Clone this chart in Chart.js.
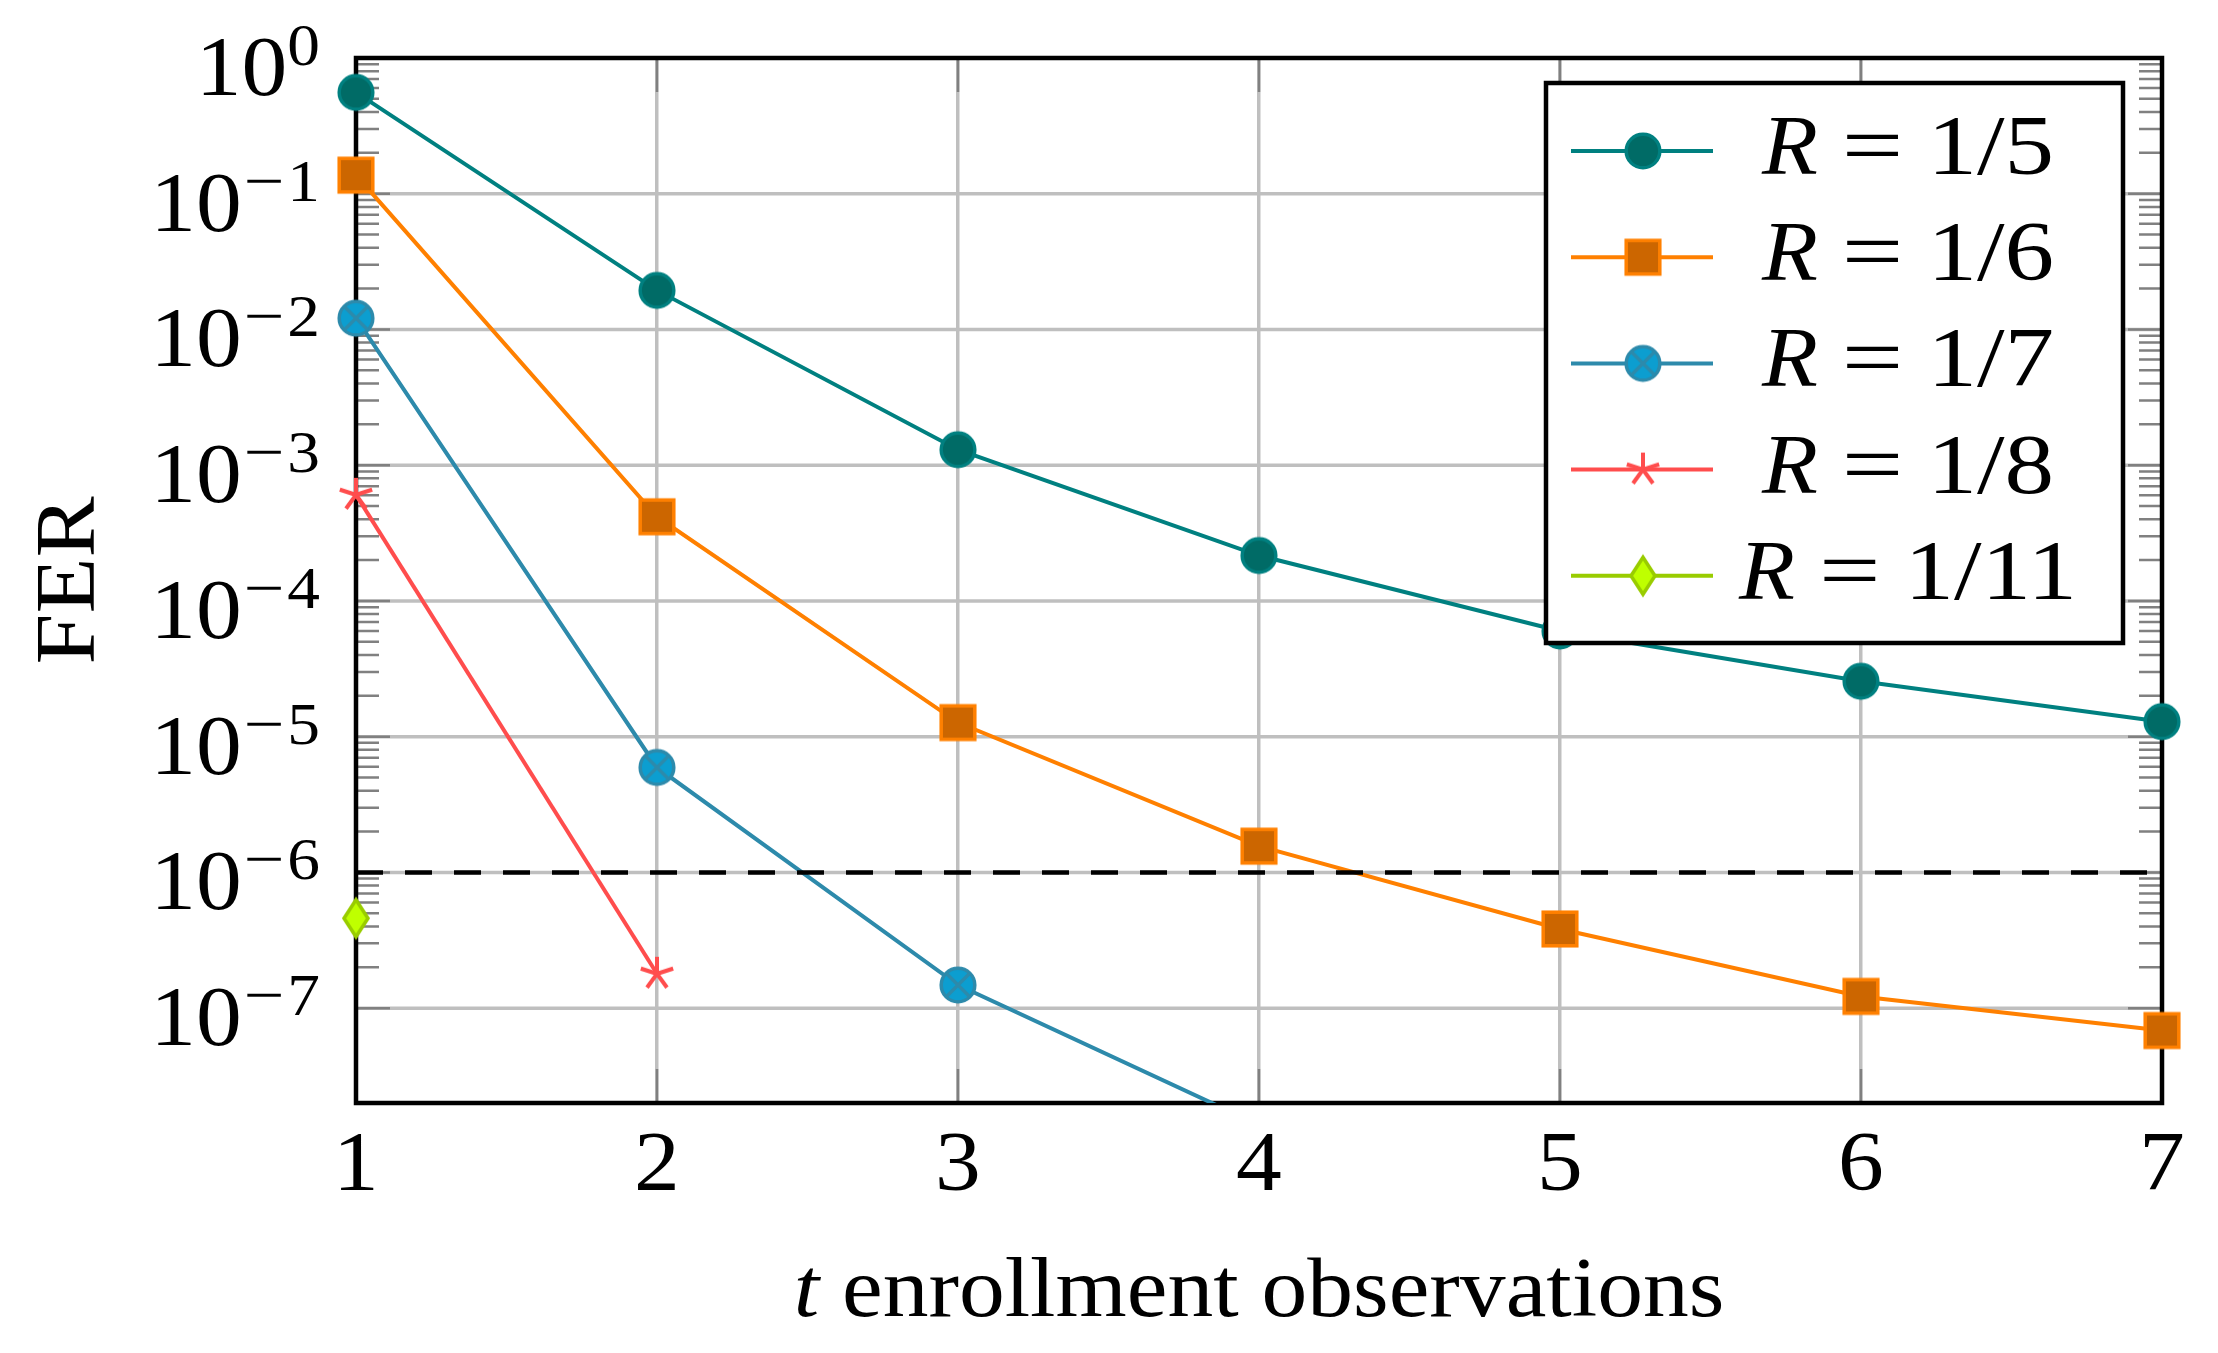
<!DOCTYPE html>
<html>
<head>
<meta charset="utf-8">
<script src="https://cdn.jsdelivr.net/npm/chart.js@4.4.1/dist/chart.umd.min.js"></script>
<style>
  html, body { margin: 0; padding: 0; background: #fff; }
  canvas { display: block; }
</style>
</head>
<body>
<canvas id="ferChart" width="2218" height="1353"></canvas>
<script>
// values
const tValues = [1, 2, 3, 4, 5, 6, 7];
const ferR5 = [0.558, 0.0194, 1.30e-3, 2.16e-4, 6.0e-5, 2.56e-5, 1.29e-5];
const ferR6 = [0.137, 4.17e-4, 1.27e-5, 1.56e-6, 3.83e-7, 1.22e-7, 6.84e-8];
const ferR7 = [0.0121, 5.93e-6, 1.48e-7, 1.38e-8];
const ferR8 = [6.05e-4, 1.79e-7];
const ferR11 = [4.59e-7];
const targetFer = 1e-6;

const rateLabels = ["1/5", "1/6", "1/7", "1/8", "1/11"];
const xTickLabels = ["1", "2", "3", "4", "5", "6", "7"];
const yTickExponents = [0, -1, -2, -3, -4, -5, -6, -7];
const xTitleVar = "t";
const xTitleRest = " enrollment observations";
const yTitle = "FER";

const SERIF = '"Liberation Serif", "DejaVu Serif", serif';
const STRETCH = 1.09; // Palatino is a bit wider than Liberation Serif

function toPoints(values) {
  return values.map((y, i) => ({ x: tValues[i], y }));
}

function textWidth(ctx, text, font, sx = STRETCH) {
  ctx.font = font;
  return ctx.measureText(text).width * sx;
}

// draws left-aligned text stretched horizontally, returns its width
function drawText(ctx, text, x, y, font, sx = STRETCH) {
  ctx.save();
  ctx.font = font;
  ctx.textAlign = "left";
  ctx.translate(x, y);
  ctx.scale(sx, 1);
  ctx.fillText(text, 0, 0);
  ctx.restore();
  return textWidth(ctx, text, font, sx);
}

function makeMarker(kind, fill, stroke) {
  const c = document.createElement("canvas");
  c.width = 46;
  c.height = 46;
  const g = c.getContext("2d");
  g.translate(23, 23);
  g.lineWidth = 3.5;
  g.fillStyle = fill;
  g.strokeStyle = stroke;
  if (kind === "circle" || kind === "otimes") {
    g.beginPath();
    g.arc(0, 0, 16.8, 0, Math.PI * 2);
    g.fill();
    g.stroke();
    if (kind === "otimes") {
      const d = 16.8 * Math.SQRT1_2;
      g.beginPath();
      g.moveTo(-d, -d); g.lineTo(d, d);
      g.moveTo(d, -d); g.lineTo(-d, d);
      g.stroke();
    }
  } else if (kind === "square") {
    g.fillRect(-16.8, -16.8, 33.6, 33.6);
    g.strokeRect(-16.8, -16.8, 33.6, 33.6);
  } else if (kind === "diamond") {
    g.beginPath();
    g.moveTo(0, -18.5); g.lineTo(12, 0); g.lineTo(0, 18.5); g.lineTo(-12, 0);
    g.closePath();
    g.fill();
    g.stroke();
  } else if (kind === "star") {
    g.lineWidth = 4;
    g.beginPath();
    for (let k = 0; k < 5; k++) {
      const a = -Math.PI / 2 + k * (2 * Math.PI / 5);
      g.moveTo(0, 0);
      g.lineTo(17 * Math.cos(a), 17 * Math.sin(a));
    }
    g.stroke();
  }
  return c;
}

const series = [
  { values: ferR5, line: "#008080", marker: makeMarker("circle", "#006b66", "#008080") },
  { values: ferR6, line: "#ff8000", marker: makeMarker("square", "#cc6600", "#ff8000") },
  { values: ferR7, line: "#2d8aab", marker: makeMarker("otimes", "#0c9ed0", "#2d8aab") },
  { values: ferR8, line: "#ff4d4d", marker: makeMarker("star", "#ff4d4d", "#ff4d4d") },
  { values: ferR11, line: "#99cc00", marker: makeMarker("diamond", "#bfff00", "#99cc00") }
];

const datasets = series.map((s, i) => ({
  label: "R = " + rateLabels[i],
  data: toPoints(s.values),
  borderColor: s.line,
  borderWidth: 4,
  pointStyle: s.marker,
  pointRadius: 18,
  pointBorderWidth: 0,
  clip: { left: 40, top: 40, right: 40, bottom: 0 },
  order: i
}));

datasets.push({
  label: "target",
  data: [{ x: tValues[0], y: targetFer }, { x: tValues[tValues.length - 1], y: targetFer }],
  borderColor: "#000",
  borderWidth: 4.5,
  borderDash: [27, 22],
  pointRadius: 0,
  clip: 0,
  order: -1
});

const axesPlugin = {
  id: "pgfAxes",
  beforeDatasetsDraw(chart) {
    const { ctx, chartArea: a } = chart;
    const ys = chart.scales.y;
    const xs = chart.scales.x;
    ctx.save();

    // decade grid lines
    ctx.strokeStyle = "#bfbfbf";
    ctx.lineWidth = 3.5;
    for (const e of yTickExponents) {
      const y = ys.getPixelForValue(Math.pow(10, e));
      ctx.beginPath();
      ctx.moveTo(a.left, y);
      ctx.lineTo(a.right, y);
      ctx.stroke();
    }

    // tick marks, drawn inside the frame
    ctx.strokeStyle = "#808080";
    ctx.lineWidth = 2.5;
    ctx.beginPath();
    for (const v of tValues) {
      const x = xs.getPixelForValue(v);
      ctx.moveTo(x, a.top); ctx.lineTo(x, a.top + 34);
      ctx.moveTo(x, a.bottom); ctx.lineTo(x, a.bottom - 34);
    }
    for (const e of yTickExponents) {
      const y = ys.getPixelForValue(Math.pow(10, e));
      ctx.moveTo(a.left, y); ctx.lineTo(a.left + 34, y);
      ctx.moveTo(a.right, y); ctx.lineTo(a.right - 34, y);
      if (e === yTickExponents[yTickExponents.length - 1]) continue;
      for (let m = 2; m <= 9; m++) {
        const ym = ys.getPixelForValue(m * Math.pow(10, e - 1));
        ctx.moveTo(a.left, ym); ctx.lineTo(a.left + 23, ym);
        ctx.moveTo(a.right, ym); ctx.lineTo(a.right - 23, ym);
      }
    }
    ctx.stroke();

    // frame
    ctx.strokeStyle = "#000";
    ctx.lineWidth = 4.5;
    ctx.strokeRect(a.left, a.top, a.right - a.left, a.bottom - a.top);
    ctx.restore();
  },
  afterDraw(chart) {
    const { ctx, chartArea: a } = chart;
    const ys = chart.scales.y;
    const xs = chart.scales.x;
    ctx.save();
    ctx.fillStyle = "#000";
    ctx.textBaseline = "alphabetic";

    const big = `84px ${SERIF}`;
    const small = `60px ${SERIF}`;
    const bigIt = `italic 84px ${SERIF}`;

    // y labels 10^n
    const labelRight = a.left - 36;
    for (const e of yTickExponents) {
      const y = ys.getPixelForValue(Math.pow(10, e));
      const digit = String(Math.abs(e));
      let x = labelRight - textWidth(ctx, digit, small);
      drawText(ctx, digit, x, y + 7, small);
      if (e < 0) {
        const wm = textWidth(ctx, "\u2212", small, 1.2);
        x -= wm + 3;
        drawText(ctx, "\u2212", x, y + 7, small, 1.2);
        x -= 2;
      }
      const w10 = textWidth(ctx, "10", big);
      drawText(ctx, "10", x - w10, y + 37, big);
    }

    // x labels
    tValues.forEach((v, i) => {
      const w = textWidth(ctx, xTickLabels[i], big);
      drawText(ctx, xTickLabels[i], xs.getPixelForValue(v) - w / 2, a.bottom + 87, big);
    });

    // x title
    const wt = textWidth(ctx, xTitleVar, bigIt);
    const wr = textWidth(ctx, xTitleRest, big);
    const x0 = (a.left + a.right) / 2 - (wt + wr) / 2;
    drawText(ctx, xTitleVar, x0, a.bottom + 213, bigIt);
    drawText(ctx, xTitleRest, x0 + wt, a.bottom + 213, big);

    // y title
    ctx.save();
    ctx.translate(94, (a.top + a.bottom) / 2);
    ctx.rotate(-Math.PI / 2);
    const wy = textWidth(ctx, yTitle, big);
    drawText(ctx, yTitle, -wy / 2, 0, big);
    ctx.restore();

    // legend box
    const box = { left: 1546, top: 83, right: 2123, bottom: 643 };
    ctx.fillStyle = "#fff";
    ctx.fillRect(box.left, box.top, box.right - box.left, box.bottom - box.top);
    ctx.strokeStyle = "#000";
    ctx.lineWidth = 4.5;
    ctx.strokeRect(box.left, box.top, box.right - box.left, box.bottom - box.top);

    const rowTop = 151;
    const rowStep = 106.2;
    series.forEach((s, i) => {
      const y = rowTop + i * rowStep;
      ctx.strokeStyle = s.line;
      ctx.lineWidth = 4;
      ctx.beginPath();
      ctx.moveTo(1571, y);
      ctx.lineTo(1713, y);
      ctx.stroke();
      ctx.drawImage(s.marker, 1643 - s.marker.width / 2, y - s.marker.height / 2);

      ctx.fillStyle = "#000";
      const wR = textWidth(ctx, "R", bigIt);
      const wEq = textWidth(ctx, "=", big, 1.3);
      const wF = textWidth(ctx, rateLabels[i], big, 1.18);
      const gap = 24;
      let x = 1908 - (wR + wEq + wF + 2 * gap) / 2;
      drawText(ctx, "R", x, y + 23, bigIt);
      x += wR + gap;
      drawText(ctx, "=", x, y + 23, big, 1.3);
      x += wEq + gap;
      drawText(ctx, rateLabels[i], x, y + 23, big, 1.18);
    });
    ctx.restore();
  }
};

new Chart(document.getElementById("ferChart"), {
  type: "line",
  data: { datasets },
  options: {
    responsive: false,
    devicePixelRatio: 1,
    animation: false,
    layout: { padding: { left: 356, right: 56, top: 58, bottom: 250 } },
    plugins: {
      legend: { display: false },
      tooltip: { enabled: false }
    },
    elements: { line: { tension: 0 } },
    scales: {
      x: {
        type: "linear",
        min: 1,
        max: 7,
        ticks: { display: false, stepSize: 1 },
        grid: { color: "#bfbfbf", lineWidth: 3.5, drawTicks: false },
        border: { display: false }
      },
      y: {
        type: "logarithmic",
        min: 2e-8,
        max: 1,
        ticks: { display: false },
        grid: { display: false, drawTicks: false },
        border: { display: false }
      }
    }
  },
  plugins: [axesPlugin]
});
</script>
</body>
</html>
